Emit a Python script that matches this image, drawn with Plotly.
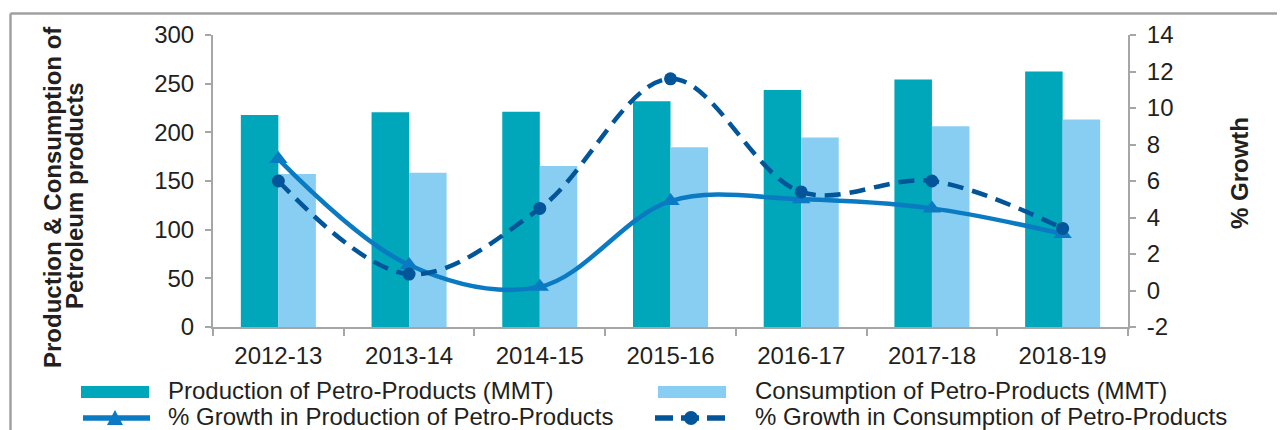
import plotly.graph_objects as go

years = ["2012-13", "2013-14", "2014-15", "2015-16", "2016-17", "2017-18", "2018-19"]
production = [217.7, 220.7, 221.1, 231.9, 243.6, 254.4, 262.4]
consumption = [157.1, 158.4, 165.5, 184.7, 194.6, 206.2, 213.2]
growth_production = [7.2, 1.4, 0.2, 4.9, 5.0, 4.5, 3.1]
growth_consumption = [6.0, 0.9, 4.5, 11.6, 5.4, 6.0, 3.4]
growth_ticks = [-2, 0, 2, 4, 6, 8, 10, 12, 14]
growth_tick_labels = ["-2", "0", "2", "4", "6", "8", "10", "12", "14"]

names = ["Production of Petro-Products (MMT)", "Consumption of Petro-Products (MMT)",
         "% Growth in Production of Petro-Products", "% Growth in Consumption of Petro-Products"]

# page body has an 8px margin, so the figure is shifted by OFF px in the window
OFF = 8
W, H = 1285 - OFF, 430 - OFF
L, R, T, B = 213 - OFF, 157, 35 - OFF, 103
PW, PH = W - L - R, H - T - B


def px_x(xw):
    return (xw - OFF - L) / PW


def px_y(yw):
    return (H - B - (yw - OFF)) / PH


FONT = "Liberation Sans, Arial, sans-serif"
TXT = "#231F20"
AX = "#A6A6A6"
C_PROD = "#00A6B9"
C_CONS = "#88CEF3"
C_GP = "#0A7AC3"
C_GC = "#03559A"

fig = go.Figure()
fig.add_trace(go.Bar(x=years, y=production, name=names[0],
                     marker=dict(color=C_PROD, line=dict(width=0)), showlegend=False))
fig.add_trace(go.Bar(x=years, y=consumption, name=names[1],
                     marker=dict(color=C_CONS, line=dict(width=0)), showlegend=False))
fig.add_trace(go.Scatter(x=years, y=growth_production, yaxis="y2", mode="lines+markers",
                         name=names[2], showlegend=False,
                         line=dict(color=C_GP, width=4.5, shape="spline", smoothing=1.0),
                         marker=dict(symbol="triangle-up", size=16, color=C_GP)))
fig.add_trace(go.Scatter(x=years, y=growth_consumption, yaxis="y2", mode="lines+markers",
                         name=names[3], showlegend=False,
                         line=dict(color=C_GC, width=4.5, shape="spline", smoothing=1.0,
                                   dash="16px,9px"),
                         marker=dict(symbol="circle", size=13, color=C_GC)))

tickfont = dict(family=FONT, size=24, color=TXT)

fig.update_layout(
    width=W, height=H,
    margin=dict(l=L, r=R, t=T, b=B, autoexpand=False),
    paper_bgcolor="white", plot_bgcolor="white",
    barmode="group", bargap=0.426, bargroupgap=0,
    font=dict(family=FONT, color=TXT),
    showlegend=False,
    xaxis=dict(type="category", range=[-0.5, 6.5], showgrid=False, showline=True,
               linecolor=AX, linewidth=2, ticks="outside", tickson="boundaries",
               ticklen=7, tickcolor=AX, tickwidth=2, tickfont=tickfont,
               ticklabelstandoff=6, zeroline=False),
    yaxis=dict(range=[0, 300], dtick=50, showgrid=False, showline=True, linecolor=AX,
               linewidth=2, ticks="outside", ticklen=6, tickcolor=AX, tickwidth=2,
               tickfont=tickfont, zeroline=False, ticklabelstandoff=6),
    yaxis2=dict(range=[-2, 14], tickmode="array", tickvals=growth_ticks,
                ticktext=growth_tick_labels, overlaying="y", side="right", showgrid=False,
                showline=True, linecolor=AX, linewidth=2, ticks="outside", ticklen=6,
                tickcolor=AX, tickwidth=2, tickfont=tickfont, zeroline=False,
                ticklabelstandoff=6),
)

# axis titles
fig.add_annotation(text="<b>Production & Consumption of</b>", textangle=-90, xref="paper",
                   yref="paper", x=px_x(52), y=px_y(197), xanchor="center", yanchor="middle",
                   showarrow=False, font=dict(family=FONT, size=24, color=TXT))
fig.add_annotation(text="<b>Petroleum products</b>", textangle=-90, xref="paper", yref="paper",
                   x=px_x(74), y=px_y(196), xanchor="center", yanchor="middle", showarrow=False,
                   font=dict(family=FONT, size=24, color=TXT))
fig.add_annotation(text="<b>% Growth</b>", textangle=-90, xref="paper", yref="paper",
                   x=px_x(1239), y=px_y(173), xanchor="center", yanchor="middle",
                   showarrow=False, font=dict(family=FONT, size=24, color=TXT))

# frame lines
fig.add_shape(type="line", xref="paper", yref="paper", x0=px_x(10.5), x1=px_x(10.5),
              y0=px_y(13.5), y1=px_y(440), line=dict(color="#A0A0A0", width=2.5))
fig.add_shape(type="line", xref="paper", yref="paper", x0=px_x(10.5), x1=px_x(1300),
              y0=px_y(13.5), y1=px_y(13.5), line=dict(color="#A0A0A0", width=2.5))

# custom legend (swatches drawn as shapes, labels as text)
legfont = dict(family=FONT, size=24, color=TXT)
row1, row2 = 390, 416
sw1, sw2 = 391, 418
col1_sw, col2_sw = 81, 658
col1_tx, col2_tx = 166, 753

fig.add_shape(type="rect", xref="paper", yref="paper", x0=px_x(col1_sw), x1=px_x(col1_sw + 68),
              y0=px_y(sw1 - 5), y1=px_y(sw1 + 7), line=dict(width=0), fillcolor=C_PROD)
fig.add_shape(type="rect", xref="paper", yref="paper", x0=px_x(col2_sw), x1=px_x(col2_sw + 68),
              y0=px_y(sw1 - 5), y1=px_y(sw1 + 7), line=dict(width=0), fillcolor=C_CONS)
# production growth: solid line + triangle
fig.add_shape(type="line", xref="paper", yref="paper", x0=px_x(83), x1=px_x(150),
              y0=px_y(sw2), y1=px_y(sw2), line=dict(color=C_GP, width=5.5))
tri_cx = 115
fig.add_shape(type="path", xref="paper", yref="paper",
              path="M {:.5f},{:.5f} L {:.5f},{:.5f} L {:.5f},{:.5f} Z".format(
                  px_x(tri_cx - 8), px_y(sw2 + 7), px_x(tri_cx + 8), px_y(sw2 + 7),
                  px_x(tri_cx), px_y(sw2 - 8)),
              fillcolor=C_GP, line=dict(width=0))
# consumption growth: dashed line + circle
fig.add_shape(type="line", xref="paper", yref="paper", x0=px_x(655), x1=px_x(725),
              y0=px_y(sw2), y1=px_y(sw2), line=dict(color=C_GC, width=5.5, dash="18px,8px"))
fig.add_shape(type="circle", xref="paper", yref="paper", x0=px_x(691 - 7), x1=px_x(691 + 7),
              y0=px_y(sw2 - 7), y1=px_y(sw2 + 7), fillcolor=C_GC, line=dict(width=0))

for txt, xw, yw in [(names[0], col1_tx, row1), (names[1], col2_tx, row1),
                    (names[2], col1_tx, row2), (names[3], col2_tx, row2)]:
    fig.add_annotation(text=txt, xref="paper", yref="paper", x=px_x(xw), y=px_y(yw),
                       xanchor="left", yanchor="middle", showarrow=False, font=legfont)

fig.write_html("out.html")
